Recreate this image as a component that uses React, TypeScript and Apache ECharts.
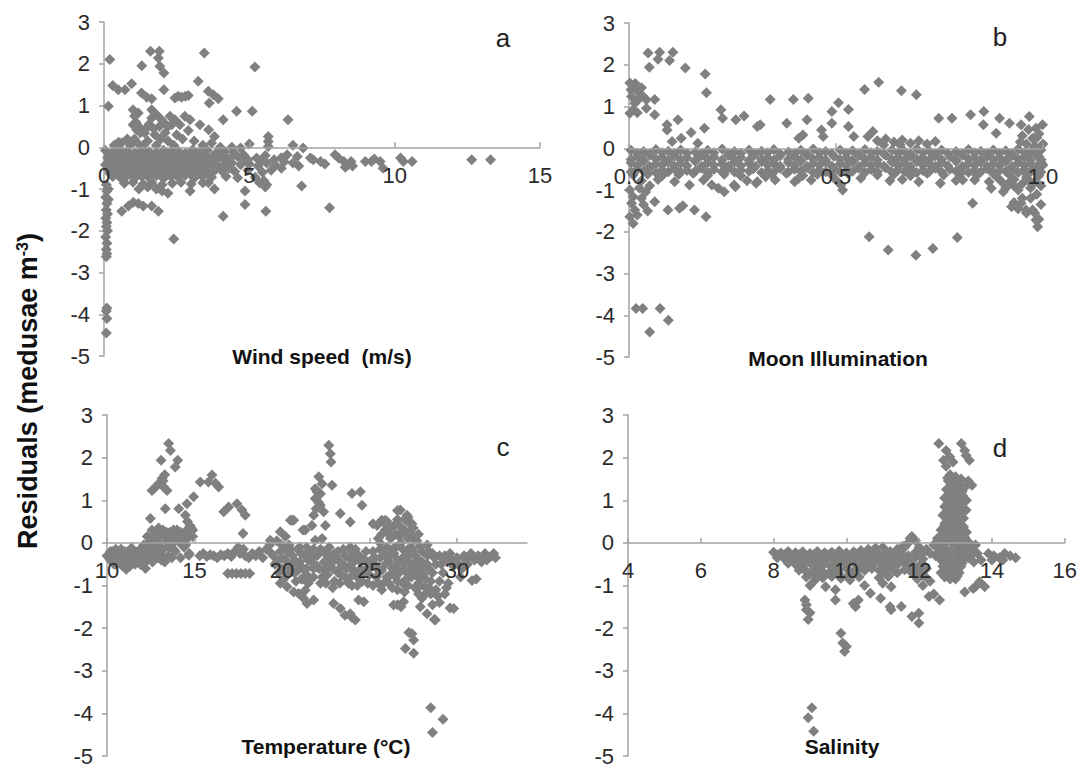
import React, { useEffect, useRef } from "react";
import * as echarts from "echarts";

const panelLetters = ["a", "b", "c", "d"];
const xTitles = ["Wind speed  (m/s)", "Moon Illumination", "Temperature (°C)", "Salinity"];
const yTitle = "Residuals (medusae m";
const xMin = [0, 0, 10, 4];
const xMax = [15, 1, 34, 16];
const xStep = [5, 0.5, 5, 2];
const tempTickValues = [10, 15, 20, 25, 30];

// Panel a: wind speed (m/s) vs residuals
const windOutliers: number[][] = [
  [0.2, 2.1], [1.3, 1.95], [1.6, 2.3], [1.9, 2.3], [1.87, 2.14], [1.92, 1.94], [2.06, 1.78], [3.45, 2.26], [5.19, 1.92],
  [0.3, 1.48], [0.49, 1.38], [0.72, 1.38], [0.95, 1.52], [1.29, 1.3], [1.47, 1.2], [1.64, 1.16], [2.06, 1.38], [2.44, 1.18],
  [2.67, 1.2], [2.9, 1.24], [2.55, 1.22], [2.8, 1.22], [3.24, 1.58], [3.59, 1.34], [3.76, 1.26], [3.93, 1.16], [3.62, 1.06],
  [0.15, 0.98], [1.0, 0.9], [1.18, 0.82], [1.64, 0.9], [1.64, 0.7], [1.81, 0.78], [1.98, 0.66], [2.27, 0.74], [2.44, 0.66],
  [2.61, 0.54], [2.78, 0.74], [2.96, 0.66], [2.33, 0.54], [1.0, 0.54], [1.12, 0.42], [1.4, 0.34], [3.3, 0.54], [3.6, 0.42],
  [3.8, 0.26], [4.1, 0.66], [4.56, 0.86], [5.1, 0.86], [6.33, 0.66], [5.65, 0.26], [5.65, 0.14], [5.65, 0.02],
  [1.05, 0.75], [1.1, 0.6], [1.2, 0.5], [1.25, 0.35], [1.05, 0.2], [1.15, 0.1], [1.55, 0.55], [1.7, 0.45], [1.75, 0.3],
  [1.9, 0.5], [1.95, 0.2], [2.1, 0.35], [2.2, 0.15], [1.5, 0.15], [0.8, 0.2], [0.6, 0.1], [0.9, 0.05], [2.5, 0.3], [2.7, 0.2],
  [2.9, 0.4], [3.1, 0.15], [3.4, 0.05], [3.7, 0.1], [4.0, 0.0], [2.4, 0.05], [0.35, 0.05], [0.5, 0.12], [1.35, 0.05],
  [1.8, 0.05], [2.05, 0.6], [2.2, 0.5], [1.45, 0.45], [4.4, 0.0], [4.7, -0.02], [5.0, 0.08], [6.5, 0.05], [6.85, -0.02],
  [1.2, -1.0], [1.5, -0.95], [2.2, -1.1], [2.0, -1.05], [1.8, -1.0], [3.8, -1.0], [2.96, -1.05], [3.59, -0.85], [6.8, -0.93],
  [4.85, -1.05], [4.85, -1.37], [5.57, -1.53], [4.1, -1.65], [2.4, -2.2], [7.76, -1.45], [5.5, -0.8], [5.6, -0.9],
  [0.61, -1.53], [0.84, -1.41], [1.01, -1.32], [1.18, -1.35], [1.35, -1.41], [1.64, -1.41], [1.87, -1.53],
  [0.08, -0.9], [0.1, -1.05], [0.06, -1.2], [0.1, -1.35], [0.08, -1.5], [0.12, -1.6], [0.06, -1.7], [0.1, -1.8], [0.08, -1.9],
  [0.12, -2.0], [0.06, -2.15], [0.1, -2.3], [0.08, -2.45], [0.1, -2.55], [0.08, -2.62], [0.1, -3.85], [0.08, -3.92],
  [0.1, -4.1], [0.08, -4.45], [0.15, -1.0], [0.15, -1.25],
  [6.3, -0.18], [6.5, -0.38], [6.65, -0.22], [7.1, -0.26], [7.2, -0.3], [7.45, -0.34], [7.95, -0.18], [8.07, -0.26],
  [8.25, -0.34], [8.4, -0.42], [8.5, -0.34], [8.55, -0.45], [8.99, -0.34], [9.2, -0.34], [9.5, -0.34], [9.6, -0.5],
  [10.2, -0.26], [10.3, -0.34], [10.6, -0.34], [12.65, -0.3], [13.3, -0.3], [6.1, -0.5], [6.2, -0.35], [6.7, -0.45],
  [7.6, -0.4], [8.3, -0.48], [9.3, -0.28],
];
const windBand: number[][] = [
  [0.05, -0.08], [0.3, -0.12], [0.55, -0.05], [0.8, -0.1], [1.05, -0.14], [1.3, -0.06], [1.55, -0.1], [1.8, -0.13], [2.05, -0.07],
  [2.3, -0.11], [2.55, -0.09], [2.8, -0.14], [3.05, -0.06], [3.3, -0.12], [3.55, -0.08], [3.85, -0.15], [4.15, -0.1], [4.45, -0.12], [4.8, -0.18],
  [0.12, -0.25], [0.42, -0.28], [0.68, -0.22], [0.92, -0.27], [1.18, -0.24], [1.42, -0.3], [1.68, -0.23], [1.92, -0.28], [2.18, -0.25],
  [2.42, -0.22], [2.68, -0.29], [2.92, -0.24], [3.18, -0.27], [3.42, -0.23], [3.7, -0.3], [3.98, -0.25], [4.3, -0.28], [4.6, -0.22],
  [4.95, -0.3], [5.25, -0.26], [5.55, -0.2], [5.85, -0.3], [6.1, -0.25],
  [0.05, -0.42], [0.3, -0.38], [0.55, -0.44], [0.8, -0.4], [1.05, -0.37], [1.3, -0.43], [1.55, -0.39], [1.8, -0.45], [2.05, -0.41],
  [2.3, -0.37], [2.55, -0.43], [2.8, -0.4], [3.05, -0.46], [3.3, -0.38], [3.55, -0.42], [3.85, -0.4], [4.1, -0.45], [4.4, -0.38],
  [4.7, -0.42], [5.0, -0.4], [5.3, -0.45], [5.6, -0.38], [5.9, -0.43],
  [0.15, -0.55], [0.42, -0.58], [0.68, -0.53], [0.92, -0.6], [1.18, -0.56], [1.42, -0.52], [1.68, -0.59], [1.92, -0.55], [2.18, -0.6],
  [2.42, -0.54], [2.68, -0.57], [2.92, -0.52], [3.2, -0.58], [3.45, -0.55], [3.75, -0.6], [4.05, -0.56], [4.5, -0.58], [4.95, -0.55],
  [5.45, -0.6], [5.75, -0.55],
  [0.3, -0.7], [0.55, -0.72], [0.8, -0.68], [1.05, -0.74], [1.3, -0.7], [1.55, -0.73], [1.8, -0.68], [2.05, -0.75], [2.3, -0.7],
  [2.55, -0.72], [2.8, -0.67], [3.1, -0.74], [3.4, -0.7], [3.7, -0.72], [4.2, -0.7], [4.6, -0.73], [5.2, -0.72],
  [0.7, -0.86], [1.0, -0.84], [1.35, -0.88], [1.65, -0.85], [2.0, -0.9], [2.35, -0.86], [2.65, -0.84], [3.0, -0.88], [3.4, -0.85],
  [5.35, -0.85], [5.55, -0.95],
];
const windBandFill: number[][] = [
  [0.2, -0.18], [0.45, -0.2], [0.7, -0.16], [0.95, -0.19], [1.2, -0.17], [1.45, -0.2], [1.7, -0.18], [1.95, -0.16], [2.2, -0.2],
  [2.45, -0.17], [2.7, -0.19], [2.95, -0.18], [3.2, -0.16], [3.5, -0.2], [3.8, -0.18], [4.1, -0.19], [4.5, -0.17],
  [0.2, -0.33], [0.45, -0.31], [0.7, -0.35], [0.95, -0.32], [1.2, -0.34], [1.45, -0.31], [1.7, -0.35], [1.95, -0.33], [2.2, -0.31],
  [2.45, -0.34], [2.7, -0.32], [2.95, -0.35], [3.2, -0.33], [3.5, -0.31], [3.8, -0.34], [4.2, -0.33], [4.8, -0.35], [5.4, -0.33],
  [0.2, -0.48], [0.45, -0.5], [0.7, -0.47], [0.95, -0.49], [1.2, -0.51], [1.45, -0.47], [1.7, -0.5], [1.95, -0.48], [2.2, -0.46],
  [2.45, -0.5], [2.7, -0.48], [2.95, -0.51], [3.25, -0.47], [3.6, -0.49], [3.95, -0.48], [4.3, -0.5],
  [0.2, -0.63], [0.5, -0.65], [0.75, -0.62], [1.0, -0.66], [1.25, -0.63], [1.5, -0.65], [1.75, -0.62], [2.0, -0.64], [2.25, -0.66],
  [2.5, -0.63], [2.75, -0.61], [3.0, -0.65], [3.3, -0.63], [3.6, -0.66],
];

// Panel b: moon illumination vs residuals
const moonOutliers: number[][] = [
  [0.046, 2.28], [0.074, 2.3], [0.106, 2.3], [0.049, 1.94], [0.07, 2.13], [0.098, 2.1], [0.136, 1.92], [0.184, 1.78], [0.187, 1.33],
  [0.002, 1.56], [0.01, 1.48], [0.018, 1.4], [0.026, 1.32], [0.034, 1.24], [0.006, 1.24], [0.014, 1.08], [0.01, 0.92], [0.002, 0.84],
  [0.022, 1.16], [0.042, 1.16], [0.005, 1.4], [0.015, 1.55], [0.03, 1.45], [0.02, 0.85],
  [0.062, 1.17], [0.042, 0.96], [0.062, 0.8], [0.092, 0.56], [0.092, 0.44], [0.118, 0.68], [0.104, 0.16], [0.126, 0.24], [0.15, 0.38],
  [0.182, 0.48], [0.166, 0.12], [0.222, 0.92], [0.226, 0.72], [0.258, 0.68], [0.278, 0.77], [0.31, 0.52], [0.317, 0.56], [0.341, 1.17],
  [0.381, 0.6], [0.397, 1.17], [0.433, 1.2], [0.41, 0.24], [0.42, 0.32], [0.43, 0.68], [0.465, 0.44], [0.469, 0.28],
  [0.506, 1.09], [0.49, 0.88], [0.53, 0.93], [0.49, 0.6], [0.53, 0.52], [0.543, 0.28], [0.577, 0.28], [0.589, 0.4],
  [0.569, 1.41], [0.603, 1.58], [0.658, 1.38], [0.694, 1.28], [0.748, 0.72], [0.78, 0.72], [0.825, 0.8], [0.857, 0.88], [0.856, 0.56],
  [0.895, 0.72], [0.919, 0.6], [0.887, 0.36], [0.947, 0.56], [0.967, 0.76], [0.983, 0.48], [0.975, 0.24], [0.999, 0.56],
  [0.6, 0.18], [0.62, 0.22], [0.64, 0.15], [0.66, 0.2], [0.68, 0.12], [0.7, 0.18], [0.72, 0.1], [0.74, 0.16], [0.615, 0.08], [0.655, 0.08],
  [0.95, 0.3], [0.96, 0.1], [0.98, 0.05], [1.0, 0.1], [0.985, 0.25], [0.965, 0.45], [0.945, 0.15], [0.99, 0.35],
  [0.146, -0.88], [0.2, -0.88], [0.216, -0.96], [0.23, -1.04], [0.254, -0.88], [0.31, -0.8], [0.33, -0.68], [0.353, -0.76], [0.41, -0.72],
  [0.44, -0.76], [0.307, -0.84], [0.257, -0.92], [0.094, -1.48], [0.122, -1.44], [0.13, -1.38], [0.158, -1.48], [0.186, -1.64],
  [0.062, -1.28], [0.002, -1.0], [0.01, -1.16], [0.006, -1.32], [0.014, -1.48], [0.002, -1.64], [0.01, -1.8], [0.02, -1.6],
  [0.03, -1.2], [0.04, -1.05], [0.05, -0.9], [0.025, -0.95], [0.035, -1.35], [0.045, -1.5],
  [0.017, -3.84], [0.033, -3.84], [0.075, -3.84], [0.05, -4.4], [0.095, -4.12],
  [0.56, -0.72], [0.516, -1.0], [0.512, -0.88], [0.752, -0.84], [0.806, -0.76], [0.835, -0.76], [0.875, -0.96], [0.904, -1.04],
  [0.83, -1.32], [0.58, -2.12], [0.626, -2.44], [0.693, -2.56], [0.734, -2.4], [0.793, -2.14],
  [0.924, -1.4], [0.947, -1.32], [0.959, -1.48], [0.975, -1.48], [0.983, -1.72], [0.987, -1.88],
  [0.97, -0.1], [0.99, -0.2], [1.0, -0.4], [0.99, -0.6], [0.98, -0.8], [0.97, -0.95], [0.96, -0.7], [0.95, -0.85], [0.94, -1.0],
  [0.93, -0.9], [0.92, -0.8], [0.91, -0.95], [0.9, -0.8], [0.89, -0.7], [0.995, -0.9], [0.985, -1.1], [0.97, -1.2], [0.995, -1.35],
  [0.98, -1.55], [0.99, -1.7], [0.96, -1.55], [0.95, -1.2], [0.94, -1.45], [0.93, -1.3],
];
const moonBand: number[][] = [
  [0.005, -0.05], [0.035, -0.08], [0.065, -0.03], [0.095, -0.07], [0.125, -0.04], [0.16, -0.09], [0.19, -0.05], [0.225, -0.02],
  [0.255, -0.08], [0.29, -0.04], [0.32, -0.07], [0.35, -0.03], [0.385, -0.09], [0.415, -0.05], [0.445, -0.02], [0.475, -0.08],
  [0.51, -0.04], [0.54, -0.06], [0.57, -0.03], [0.6, -0.08], [0.635, -0.04], [0.665, -0.07], [0.695, -0.02], [0.725, -0.06],
  [0.755, -0.04], [0.79, -0.08], [0.82, -0.03], [0.85, -0.07], [0.88, -0.04], [0.91, -0.06], [0.94, -0.02], [0.97, -0.07], [0.995, -0.04],
  [0.02, -0.2], [0.05, -0.17], [0.08, -0.22], [0.11, -0.19], [0.14, -0.23], [0.175, -0.18], [0.205, -0.21], [0.24, -0.17],
  [0.27, -0.22], [0.3, -0.19], [0.335, -0.23], [0.365, -0.18], [0.4, -0.2], [0.43, -0.17], [0.46, -0.22], [0.495, -0.19],
  [0.525, -0.23], [0.555, -0.18], [0.585, -0.21], [0.62, -0.17], [0.65, -0.22], [0.68, -0.19], [0.71, -0.23], [0.74, -0.18],
  [0.775, -0.2], [0.805, -0.17], [0.835, -0.22], [0.865, -0.19], [0.895, -0.23], [0.925, -0.18], [0.955, -0.21], [0.985, -0.17],
  [0.005, -0.35], [0.035, -0.32], [0.065, -0.37], [0.095, -0.33], [0.125, -0.36], [0.16, -0.31], [0.19, -0.35], [0.225, -0.38],
  [0.255, -0.33], [0.29, -0.36], [0.32, -0.32], [0.35, -0.37], [0.385, -0.34], [0.415, -0.31], [0.445, -0.36], [0.475, -0.33],
  [0.51, -0.37], [0.54, -0.32], [0.57, -0.35], [0.6, -0.38], [0.635, -0.33], [0.665, -0.36], [0.695, -0.32], [0.725, -0.37],
  [0.755, -0.34], [0.79, -0.31], [0.82, -0.36], [0.85, -0.33], [0.88, -0.37], [0.91, -0.32], [0.94, -0.35], [0.97, -0.38], [0.995, -0.33],
  [0.02, -0.5], [0.05, -0.47], [0.08, -0.52], [0.11, -0.49], [0.14, -0.53], [0.175, -0.48], [0.205, -0.51], [0.24, -0.47],
  [0.27, -0.52], [0.3, -0.49], [0.335, -0.53], [0.365, -0.48], [0.4, -0.5], [0.43, -0.47], [0.46, -0.52], [0.495, -0.49],
  [0.525, -0.53], [0.555, -0.48], [0.585, -0.51], [0.62, -0.47], [0.65, -0.52], [0.68, -0.49], [0.71, -0.53], [0.74, -0.48],
  [0.775, -0.5], [0.805, -0.47], [0.835, -0.52], [0.865, -0.49], [0.895, -0.53], [0.925, -0.48], [0.955, -0.51], [0.985, -0.47],
  [0.01, -0.64], [0.045, -0.62], [0.08, -0.66], [0.12, -0.63], [0.155, -0.6], [0.19, -0.65], [0.23, -0.62], [0.27, -0.66],
  [0.345, -0.63], [0.38, -0.6], [0.42, -0.65], [0.455, -0.62], [0.49, -0.64], [0.53, -0.61], [0.6, -0.64], [0.64, -0.62],
  [0.68, -0.66], [0.72, -0.6], [0.76, -0.64], [0.8, -0.62], [0.84, -0.65], [0.88, -0.61], [0.92, -0.64], [0.96, -0.62], [0.99, -0.66],
  [0.03, -0.78], [0.07, -0.75], [0.11, -0.8], [0.18, -0.76], [0.285, -0.78], [0.4, -0.8], [0.5, -0.76], [0.63, -0.78],
  [0.66, -0.75], [0.7, -0.8], [0.79, -0.77], [0.87, -0.8], [0.93, -0.75], [0.97, -0.82],
];
const moonBandFill: number[][] = [
  [0.02, -0.12], [0.05, -0.14], [0.08, -0.11], [0.11, -0.13], [0.14, -0.12], [0.175, -0.14], [0.205, -0.11], [0.24, -0.13],
  [0.27, -0.12], [0.305, -0.14], [0.335, -0.11], [0.365, -0.13], [0.4, -0.12], [0.43, -0.14], [0.46, -0.11], [0.49, -0.13],
  [0.525, -0.12], [0.555, -0.14], [0.585, -0.11], [0.615, -0.13], [0.65, -0.12], [0.68, -0.14], [0.71, -0.11], [0.74, -0.13],
  [0.77, -0.12], [0.805, -0.14], [0.835, -0.11], [0.865, -0.13], [0.895, -0.12], [0.925, -0.14], [0.955, -0.11], [0.985, -0.13],
  [0.005, -0.27], [0.035, -0.29], [0.065, -0.26], [0.095, -0.28], [0.125, -0.27], [0.16, -0.29], [0.19, -0.26], [0.225, -0.28],
  [0.255, -0.27], [0.29, -0.29], [0.32, -0.26], [0.35, -0.28], [0.385, -0.27], [0.415, -0.29], [0.445, -0.26], [0.475, -0.28],
  [0.51, -0.27], [0.54, -0.29], [0.57, -0.26], [0.6, -0.28], [0.635, -0.27], [0.665, -0.29], [0.695, -0.26], [0.725, -0.28],
  [0.755, -0.27], [0.79, -0.29], [0.82, -0.26], [0.85, -0.28], [0.88, -0.27], [0.91, -0.29], [0.94, -0.26], [0.97, -0.28], [0.995, -0.27],
  [0.02, -0.42], [0.05, -0.44], [0.08, -0.41], [0.11, -0.43], [0.14, -0.42], [0.175, -0.44], [0.205, -0.41], [0.24, -0.43],
  [0.27, -0.42], [0.305, -0.44], [0.335, -0.41], [0.365, -0.43], [0.4, -0.42], [0.43, -0.44], [0.46, -0.41], [0.49, -0.43],
  [0.525, -0.42], [0.555, -0.44], [0.585, -0.41], [0.615, -0.43], [0.65, -0.42], [0.68, -0.44], [0.71, -0.41], [0.74, -0.43],
  [0.77, -0.42], [0.805, -0.44], [0.835, -0.41], [0.865, -0.43], [0.895, -0.42], [0.925, -0.44], [0.955, -0.41], [0.985, -0.43],
  [0.005, -0.57], [0.035, -0.55], [0.065, -0.58], [0.095, -0.56], [0.125, -0.57], [0.16, -0.55], [0.19, -0.58], [0.225, -0.56],
  [0.255, -0.57], [0.29, -0.55], [0.32, -0.58], [0.35, -0.56], [0.385, -0.57], [0.415, -0.55], [0.445, -0.58], [0.475, -0.56],
  [0.51, -0.57], [0.54, -0.55], [0.57, -0.58], [0.6, -0.56], [0.635, -0.57], [0.665, -0.55], [0.695, -0.58], [0.725, -0.56],
  [0.755, -0.57], [0.79, -0.55], [0.82, -0.58], [0.85, -0.56], [0.88, -0.57], [0.91, -0.55], [0.94, -0.58], [0.97, -0.56], [0.995, -0.57],
];

// Panel c: temperature (°C) vs residuals
const tempLow: number[][] = [
  [10.0, -0.3], [10.2, -0.2], [10.2, -0.4], [10.4, -0.3], [10.5, -0.15], [10.6, -0.45], [10.7, -0.25], [10.8, -0.38], [10.9, -0.55],
  [11.0, -0.2], [11.0, -0.35], [11.1, -0.62], [11.2, -0.45], [11.3, -0.28], [11.4, -0.12], [11.5, -0.35], [11.6, -0.5], [11.7, -0.22],
  [11.8, -0.4], [11.9, -0.15], [12.0, -0.3], [12.1, -0.05], [12.2, -0.45], [12.3, -0.2], [12.4, 0.02], [12.5, -0.35], [12.6, -0.1],
  [12.7, 0.1], [12.8, -0.25], [12.9, 0.0], [13.0, 0.15], [13.1, -0.4], [13.2, -0.15], [13.3, 0.2], [13.4, 0.05], [13.5, -0.3],
  [13.6, 0.25], [13.7, -0.05], [13.8, 0.15], [13.9, -0.2], [14.0, 0.3], [14.1, 0.05], [14.2, -0.35], [14.3, 0.2], [14.4, -0.1],
  [14.5, 0.28], [14.6, 0.1], [14.7, -0.25], [14.8, 0.35], [14.9, 0.15], [13.0, -0.2], [12.8, 0.2], [13.2, 0.3], [13.5, 0.1],
  [13.9, 0.2], [14.3, -0.05], [12.3, -0.4], [12.6, -0.45], [13.3, -0.45], [10.5, -0.5], [11.3, -0.55], [12.9, -0.35], [13.7, -0.35],
  [14.67, -0.29], [12.57, 0.3], [12.3, 0.15], [12.95, 0.35],
  [15.3, -0.3], [15.5, -0.25], [15.7, -0.32], [15.9, -0.28], [16.1, -0.3], [16.3, -0.35], [16.5, -0.28], [16.7, -0.3], [16.9, -0.25],
  [17.1, -0.32], [17.3, -0.2], [17.5, -0.1], [17.6, -0.25], [17.8, -0.15], [17.9, -0.3], [18.1, -0.35], [18.3, -0.25], [18.5, -0.3],
  [18.7, -0.2], [18.9, -0.35], [19.1, -0.15], [19.3, -0.05], [19.5, -0.3], [19.7, 0.05], [19.9, -0.2],
  [16.9, -0.72], [17.15, -0.72], [17.4, -0.72], [17.65, -0.72], [17.9, -0.72], [18.15, -0.72],
  [17.77, 0.22], [16.67, 0.73], [16.95, 0.84], [17.43, 0.92], [17.71, 0.77], [17.9, 0.65], [15.33, 1.43], [16.0, 1.59], [16.38, 1.31],
  [15.8, 1.43], [16.2, 1.4], [14.95, 1.08], [14.57, 0.92], [14.48, 0.65], [14.1, 0.8], [13.33, 0.8], [12.48, 0.57], [13.52, 2.33],
  [13.62, 2.17], [14.04, 1.94], [13.9, 1.78], [13.09, 1.94], [13.14, 1.51], [12.95, 1.39], [12.57, 1.23], [13.24, 1.31], [13.43, 1.23],
  [13.2, 1.45], [13.3, 1.6], [12.75, 1.3], [14.6, 0.5], [14.75, 0.4],
];
const tempHigh: number[][] = [
  [19.33, 0.06], [19.9, 0.26], [20.48, 0.53], [20.67, 0.53], [21.2, 0.3], [20.57, 0.53], [20.2, 0.15], [20.0, -0.05],
  [19.6, -0.5], [19.8, -0.7], [20.0, -0.35], [20.1, -0.85], [20.3, -0.2], [20.4, -0.5], [20.6, -0.3], [20.7, -0.7], [20.9, -0.15],
  [21.0, -0.45], [21.1, -0.85], [21.3, -0.3], [21.4, -0.6], [21.6, -0.2], [21.7, -0.45], [21.8, -0.8], [22.0, -0.3], [22.1, -0.6],
  [22.2, -0.95], [22.4, -0.2], [22.5, -0.45], [22.6, -0.75], [22.8, -0.3], [22.9, -0.6], [23.0, -0.9], [23.2, -0.2], [23.3, -0.45],
  [23.4, -0.75], [23.6, -0.3], [23.7, -0.6], [23.8, -0.95], [24.0, -0.2], [24.1, -0.45], [24.2, -0.75], [24.4, -0.3], [24.5, -0.6],
  [24.6, -0.9], [24.8, -0.2], [24.9, -0.45], [25.0, -0.75], [21.5, -0.95], [22.9, -1.05], [24.3, -1.0], [23.5, -0.15], [21.0, -0.1],
  [19.4, -0.25],
  [22.67, 2.29], [22.76, 2.09], [22.8, 1.9], [22.1, 1.55], [21.9, 1.27], [22.29, 1.39], [22.86, 1.35], [21.9, 1.04], [22.19, 0.88],
  [21.81, 0.65], [22.38, 0.73], [22.48, 0.41], [21.71, 0.41], [21.33, 0.3], [21.9, 0.06], [22.29, 0.1], [24.0, 1.16], [24.48, 1.2],
  [24.57, 0.88], [23.33, 0.69], [23.9, 0.49], [22.0, 1.2], [22.1, 0.95], [22.2, 1.15], [21.95, 0.8],
  [20.29, -1.03], [20.67, -1.15], [20.95, -1.19], [21.24, -1.3], [21.43, -1.42], [21.33, -1.11], [21.81, -1.34], [22.95, -1.42],
  [23.33, -1.54], [23.9, -1.66], [24.19, -1.81], [24.38, -1.34], [24.67, -1.38], [23.6, -1.7], [24.0, -1.75],
  [25.2, -0.2], [25.3, -0.5], [25.4, -0.8], [25.5, 0.1], [25.6, -0.35], [25.7, -0.65], [25.8, -0.95], [25.9, 0.3], [26.0, -0.1],
  [26.1, -0.45], [26.2, -0.75], [26.3, 0.15], [26.4, -0.25], [26.5, -0.55], [26.6, -0.9], [26.7, 0.4], [26.8, 0.0], [26.9, -0.35],
  [27.0, -0.65], [27.1, 0.25], [27.2, -0.15], [27.3, -0.45], [27.4, -0.8], [27.5, 0.1], [27.6, -0.3], [27.7, -0.6], [27.8, -0.95],
  [27.9, -0.1], [28.0, -0.45], [28.1, -0.75], [28.2, -1.05], [28.3, -0.3], [28.4, -0.6], [28.5, -0.9], [26.0, 0.5], [26.2, 0.35],
  [26.5, 0.2], [27.3, 0.45], [27.0, 0.55], [27.8, 0.2], [26.6, -1.1], [27.2, -1.0],
  [25.43, 0.41], [25.9, 0.53], [26.76, 0.77], [27.14, 0.65], [27.43, 0.45], [25.2, 0.45], [25.7, 0.53], [26.6, 0.76], [27.2, 0.6],
  [26.38, -1.46], [26.95, -1.38], [26.6, -1.45], [26.8, -1.5], [27.9, -1.5], [28.29, -1.66], [28.76, -1.81], [29.81, -1.54],
  [30.86, -0.88], [27.43, -2.13], [27.52, -2.28], [27.05, -2.48], [27.52, -2.59], [27.25, -2.1], [28.5, -3.87], [29.2, -4.14],
  [28.6, -4.45], [28.7, -1.8], [29.6, -1.53], [28.0, -1.3], [28.5, -1.2], [29.0, -1.4], [28.8, -1.1], [27.9, -1.0], [28.2, -1.2],
  [28.6, -0.25], [28.8, -0.5], [29.0, -0.3], [29.2, -0.7], [29.4, -0.4], [29.6, -0.25], [29.8, -0.55], [30.0, -0.35], [30.2, -0.8],
  [30.4, -0.3], [30.6, -0.5], [30.8, -0.25], [31.0, -0.4], [31.2, -0.3], [31.4, -0.45], [31.6, -0.25], [31.8, -0.35], [32.0, -0.3],
  [32.2, -0.35], [31.1, -0.85], [29.5, -0.95], [30.3, -0.6],
];
const tempFill: number[][] = [
  [10.1, -0.35], [10.3, -0.45], [10.3, -0.2], [10.6, -0.32], [10.8, -0.15], [10.9, -0.4], [11.2, -0.2], [11.3, -0.4], [11.5, -0.2],
  [11.6, -0.38], [11.8, -0.25], [11.9, -0.5], [12.1, -0.35], [12.2, -0.1], [12.4, -0.25], [12.5, 0.1], [12.7, -0.3], [12.9, 0.2],
  [13.0, -0.05], [13.1, 0.25], [13.2, -0.3], [13.4, 0.25], [13.5, -0.1], [13.6, 0.05], [13.8, -0.15], [13.8, 0.3], [14.0, 0.1],
  [14.2, 0.25], [14.4, 0.15], [14.5, -0.05], [14.7, 0.2], [14.9, 0.3], [12.2, -0.6], [10.4, -0.5],
  [20.2, -0.4], [20.5, -0.6], [20.8, -0.45], [21.1, -0.25], [21.4, -0.75], [21.7, -0.35], [22.0, -0.55], [22.3, -0.8], [22.6, -0.3],
  [22.9, -0.45], [23.2, -0.7], [23.5, -0.5], [23.8, -0.35], [24.1, -0.65], [24.4, -0.85], [24.7, -0.4], [25.0, -0.55], [20.5, -0.15],
  [21.8, -0.15], [22.7, -0.1], [24.2, -0.15], [21.2, -0.6], [22.4, -0.65], [23.1, -0.35], [23.9, -0.8], [24.6, -0.7],
  [25.3, -0.35], [25.5, -0.6], [25.6, 0.0], [25.8, -0.2], [25.9, -0.5], [26.0, -0.8], [26.1, 0.2], [26.2, -0.3], [26.3, -0.6],
  [26.4, 0.4], [26.5, -0.1], [26.6, -0.4], [26.7, -0.7], [26.8, 0.25], [26.9, -0.15], [27.0, -0.5], [27.1, -0.85], [27.2, 0.1],
  [27.3, -0.25], [27.4, -0.55], [27.5, -0.2], [27.6, -0.75], [27.7, 0.05], [27.8, -0.4], [27.9, -0.65], [28.0, -0.2], [28.1, -0.55],
  [28.2, -0.85], [28.3, -0.5], [28.4, -0.2], [26.1, -0.95], [26.9, -0.95], [27.6, -1.05], [25.5, -0.95], [25.9, 0.45], [26.6, 0.55],
  [27.5, 0.35],
  [28.7, -0.35], [29.1, -0.5], [29.3, -0.3], [29.7, -0.4], [30.1, -0.5], [30.5, -0.4], [30.9, -0.35], [31.3, -0.35], [31.7, -0.4],
  [32.1, -0.25],
  [19.7, -0.45], [20.0, -0.6], [20.3, -0.75], [20.6, -0.5], [20.9, -0.65], [21.2, -0.85], [21.5, -0.4], [21.8, -0.6], [22.1, -0.25],
  [22.4, -0.45], [22.7, -0.55], [23.0, -0.25], [23.3, -0.6], [23.6, -0.8], [23.9, -0.55], [24.2, -0.3], [24.5, -0.45], [24.8, -0.65],
  [25.1, -0.4], [25.4, -0.6], [20.8, -0.9], [21.6, -0.85], [22.5, -0.95], [23.3, -0.95], [24.0, -1.0], [24.9, -0.95], [20.1, -0.1],
  [21.4, -0.1], [22.2, -0.15], [23.9, -0.1], [25.6, -0.15], [26.0, -0.35], [26.3, -0.15], [26.6, -0.6], [26.9, -0.45], [27.1, -0.3],
  [27.4, -0.1], [27.7, -0.45], [28.0, -0.7], [28.3, -0.05], [26.2, 0.1], [26.7, 0.15], [27.0, 0.3], [27.4, 0.2], [25.7, 0.2],
  [26.5, -0.8], [27.3, -0.7], [27.9, -0.85], [28.6, -0.7], [25.7, -1.1], [26.3, -1.05], [27.0, -1.15], [27.8, -1.2], [28.4, -1.05],
  [29.0, -0.9], [19.9, -0.95], [20.4, -0.05], [25.2, -1.0], [28.9, -1.25], [29.3, -1.2], [28.6, -1.45], [29.4, -1.05],
];

// Panel d: salinity vs residuals
const salOutliers: number[][] = [
  [11.7, 0.0], [11.8, 0.15], [11.9, 0.05], [11.6, -0.1], [12.0, -0.1], [11.75, 0.1],
  [12.85, 1.6], [13.0, 1.55], [13.15, 1.5], [12.8, 1.45], [12.95, 1.4], [13.1, 1.35], [13.25, 1.3], [12.75, 1.25], [12.9, 1.2],
  [13.05, 1.15], [13.2, 1.1], [12.7, 1.05], [12.85, 1.0], [13.0, 0.95], [13.15, 0.9], [12.7, 0.85], [12.85, 0.8], [13.0, 0.75],
  [13.2, 0.7], [12.65, 0.65], [12.8, 0.6], [12.95, 0.55], [13.1, 0.5], [12.7, 0.45], [12.85, 0.4], [13.0, 0.35], [13.15, 0.3],
  [13.3, 0.25], [12.6, 0.3], [12.75, 0.2], [12.9, 0.15], [13.05, 0.1], [13.2, 0.05], [12.5, 0.1], [12.4, -0.05], [12.55, -0.15],
  [12.7, -0.1], [12.85, -0.2], [13.0, -0.05], [13.15, -0.15], [13.3, -0.1], [13.45, -0.2], [13.55, -0.05], [12.45, -0.3],
  [12.6, -0.4], [12.75, -0.35], [12.9, -0.45], [13.05, -0.3], [13.2, -0.4], [13.35, -0.35], [13.5, -0.45], [12.65, -0.55],
  [12.8, -0.65], [12.95, -0.6], [13.1, -0.7], [12.7, -0.8], [12.85, -0.85], [13.0, -0.85], [12.6, -0.7], [13.15, -0.55],
  [12.54, 2.33], [12.74, 2.17], [12.84, 2.02], [12.67, 1.94], [12.74, 1.8], [12.93, 1.9], [13.16, 2.33], [13.25, 2.17],
  [13.29, 2.05], [13.38, 1.94], [13.45, 1.35], [13.29, 0.77], [13.35, 1.45], [13.3, 1.0],
  [13.9, -0.25], [14.05, -0.3], [14.2, -0.35], [14.35, -0.25], [14.5, -0.3], [14.65, -0.35], [14.0, -0.4], [14.3, -0.4],
  [13.7, -0.4], [13.6, -0.25],
  [13.66, -0.91], [13.25, -1.15], [13.48, -1.07], [13.8, -1.03], [13.55, -1.03],
  [8.86, -1.34], [8.9, -1.57], [8.95, -1.8], [9.0, -1.64], [8.9, -1.45], [9.85, -2.12], [9.9, -2.35], [9.95, -2.55], [10.0, -2.43],
  [9.05, -3.87], [8.95, -4.1], [9.1, -4.42], [9.7, -1.34], [10.19, -1.42], [10.33, -1.34], [10.25, -1.5], [10.66, -1.18],
  [10.94, -1.3], [11.23, -1.57], [11.51, -1.49], [11.8, -1.73], [11.99, -1.88], [11.99, -1.65], [12.27, -1.26], [12.56, -1.34],
  [12.4, -1.2], [11.23, -1.03], [9.14, -0.87], [9.43, -1.03], [9.7, -1.1], [10.1, -0.87], [9.0, -1.0], [10.5, -1.0], [11.0, -0.95],
  [11.2, -1.5], [12.1, -1.0], [12.3, -0.9], [11.8, -0.7], [11.95, -0.85], [12.1, -0.75], [12.2, -0.6],
];
const salBand: number[][] = [
  [8.0, -0.22], [8.2, -0.24], [8.4, -0.2], [8.6, -0.23], [8.8, -0.21], [9.0, -0.25], [9.2, -0.2], [9.4, -0.23], [9.6, -0.22],
  [9.8, -0.19], [10.0, -0.24], [10.2, -0.21], [10.4, -0.18], [10.6, -0.15], [10.8, -0.12], [11.0, -0.1], [11.2, -0.2], [11.4, -0.15],
  [11.55, -0.08], [12.2, -0.15], [12.3, -0.25],
  [8.1, -0.35], [8.3, -0.37], [8.5, -0.33], [8.7, -0.36], [8.9, -0.34], [9.1, -0.38], [9.3, -0.33], [9.5, -0.36], [9.7, -0.34],
  [9.9, -0.37], [10.1, -0.32], [10.3, -0.35], [10.5, -0.3], [10.7, -0.36], [10.9, -0.28], [11.1, -0.34], [11.3, -0.3], [11.5, -0.36],
  [11.7, -0.3], [11.9, -0.34], [12.1, -0.38],
  [8.4, -0.48], [8.6, -0.5], [8.8, -0.52], [9.0, -0.47], [9.2, -0.51], [9.4, -0.49], [9.6, -0.53], [9.8, -0.48], [10.0, -0.5],
  [10.2, -0.47], [10.4, -0.52], [10.6, -0.49], [10.8, -0.46], [11.0, -0.5], [11.2, -0.48], [11.4, -0.52], [11.6, -0.47], [11.8, -0.5],
  [12.0, -0.53],
  [8.7, -0.64], [8.9, -0.67], [9.1, -0.63], [9.3, -0.66], [9.6, -0.64], [9.8, -0.62], [10.1, -0.66], [10.3, -0.63], [10.5, -0.65],
  [10.9, -0.64], [11.1, -0.62], [11.3, -0.66], [11.6, -0.63], [11.85, -0.67], [12.05, -0.64],
  [8.9, -0.8], [9.15, -0.78], [9.35, -0.82], [9.6, -0.79], [9.85, -0.83], [10.05, -0.78], [10.35, -0.8], [10.9, -0.82],
  [11.15, -0.79], [11.95, -0.82], [12.15, -0.78],
];
const salFill: number[][] = [
  [8.1, -0.28], [8.3, -0.27], [8.5, -0.4], [8.7, -0.28], [8.9, -0.45], [9.1, -0.28], [9.3, -0.42], [9.5, -0.28], [9.7, -0.44],
  [9.9, -0.27], [10.1, -0.42], [10.3, -0.26], [10.5, -0.42], [10.7, -0.22], [10.9, -0.42], [11.1, -0.22], [11.3, -0.42],
  [11.5, -0.25], [11.7, -0.42], [11.9, -0.22], [12.1, -0.25],
  [8.8, -0.58], [9.0, -0.72], [9.2, -0.58], [9.4, -0.72], [9.6, -0.58], [9.8, -0.72], [10.0, -0.6], [10.2, -0.72], [10.4, -0.58],
  [10.7, -0.6], [11.0, -0.72], [11.2, -0.58], [11.4, -0.7], [11.7, -0.58], [11.9, -0.6], [12.1, -0.5],
  [12.78, 1.52], [12.92, 1.48], [13.08, 1.42], [12.88, 1.3], [13.02, 1.25], [13.18, 1.2], [12.8, 1.12], [12.95, 1.08], [13.1, 1.02],
  [12.78, 0.92], [12.92, 0.88], [13.08, 0.82], [12.75, 0.72], [12.9, 0.68], [13.05, 0.62], [13.22, 0.58], [12.78, 0.52],
  [12.92, 0.48], [13.08, 0.42], [13.22, 0.38], [12.68, 0.38], [12.82, 0.28], [12.98, 0.22], [13.12, 0.18], [13.26, 0.12],
  [12.62, 0.18], [12.48, 0.02], [12.62, 0.0], [12.78, 0.05], [12.92, -0.02], [13.08, 0.02], [13.22, -0.02], [13.38, 0.0],
  [12.52, -0.22], [12.68, -0.25], [12.82, -0.3], [12.98, -0.25], [13.12, -0.22], [13.28, -0.25], [13.42, -0.3], [12.72, -0.48],
  [12.88, -0.52], [13.02, -0.45], [13.18, -0.48], [12.75, -0.7], [12.9, -0.72], [13.05, -0.78],
];

const panelData = [
  [...windBand, ...windBandFill, ...windOutliers],
  [...moonBand, ...moonBandFill, ...moonOutliers],
  [...tempLow, ...tempHigh, ...tempFill],
  [...salBand, ...salFill, ...salOutliers],
];

const grids = [
  { left: 104, top: 22, width: 436, height: 334 },
  { left: 629, top: 23, width: 414, height: 334 },
  { left: 107, top: 415, width: 420, height: 341 },
  { left: 628, top: 415, width: 437, height: 341 },
];
const titlePos = [
  [322, 356],
  [838, 358],
  [326, 746],
  [842, 746],
];
const letterPos = [
  [503, 38],
  [1000, 37],
  [503, 447],
  [1000, 448],
];

const FONT = '"Liberation Sans", Arial, sans-serif';
const AXIS_COLOR = "#a3a3a3";
const MARK_COLOR = "#808080";

export default function App() {
  const ref = useRef<HTMLDivElement>(null);
  useEffect(() => {
    document.body.style.margin = "0";
    if (!ref.current) return;
    const chart = echarts.init(ref.current, undefined, { renderer: "svg" });
    const option: any = {
      animation: false,
      backgroundColor: "#ffffff",
      grid: grids.map((g) => ({ ...g, containLabel: false })),
      xAxis: grids.map((g, i) => ({
        type: "value",
        gridIndex: i,
        min: xMin[i],
        max: xMax[i],
        interval: xStep[i],
        position: "bottom",
        // the x axis crosses the y axis at 0 (5/8 of the height above the bottom)
        offset: -(g.height * 5) / 8,
        z: 5,
        axisLine: { show: true, onZero: false, lineStyle: { color: AXIS_COLOR, width: 1.5 } },
        axisTick: {
          show: true,
          inside: true,
          length: 5,
          lineStyle: { color: AXIS_COLOR, width: 1.5 },
          ...(i === 2 ? { customValues: tempTickValues } : {}),
        },
        axisLabel: {
          fontSize: 22,
          color: "#2b2b2b",
          fontFamily: FONT,
          margin: 17,
          formatter: (v: number) => (i === 1 ? v.toFixed(1) : String(v)),
          ...(i === 2 ? { customValues: tempTickValues } : {}),
        },
        splitLine: { show: false },
      })),
      yAxis: grids.map((_, i) => ({
        type: "value",
        gridIndex: i,
        min: -5,
        max: 3,
        interval: 1,
        axisLine: { show: true, onZero: false, lineStyle: { color: AXIS_COLOR, width: 1.5 } },
        axisTick: { show: true, inside: false, length: 5, lineStyle: { color: AXIS_COLOR, width: 1.5 } },
        axisLabel: { fontSize: 22, color: "#2b2b2b", fontFamily: FONT, margin: 14 },
        splitLine: { show: false },
      })),
      series: panelData.map((d, i) => ({
        type: "scatter",
        xAxisIndex: i,
        yAxisIndex: i,
        symbol: "diamond",
        symbolSize: 11,
        itemStyle: { color: MARK_COLOR, opacity: 1 },
        data: d,
        z: 2,
      })),
      graphic: [
        ...xTitles.map((t, i) => ({
          type: "text",
          x: titlePos[i][0],
          y: titlePos[i][1],
          z: 10,
          style: {
            text: t,
            fontSize: 21,
            fontWeight: "bold",
            fontFamily: FONT,
            fill: "#111111",
            align: "center",
            verticalAlign: "middle",
          },
        })),
        ...panelLetters.map((t, i) => ({
          type: "text",
          x: letterPos[i][0],
          y: letterPos[i][1],
          z: 10,
          style: {
            text: t,
            fontSize: 26,
            fontFamily: FONT,
            fill: "#222222",
            align: "center",
            verticalAlign: "middle",
          },
        })),
        {
          type: "text",
          x: 28,
          y: 391,
          rotation: Math.PI / 2,
          z: 10,
          style: {
            text: "{a|" + yTitle + "}{s|-3}{a|)}",
            align: "center",
            verticalAlign: "middle",
            rich: {
              a: { fontSize: 27, fontWeight: "bold", fontFamily: FONT, fill: "#111111", color: "#111111" },
              s: { fontSize: 16, fontWeight: "bold", fontFamily: FONT, fill: "#111111", color: "#111111", verticalAlign: "top" },
            },
          },
        },
      ],
    };
    chart.setOption(option);
    return () => chart.dispose();
  }, []);
  return <div ref={ref} style={{ width: 1080, height: 769 }} />;
}
